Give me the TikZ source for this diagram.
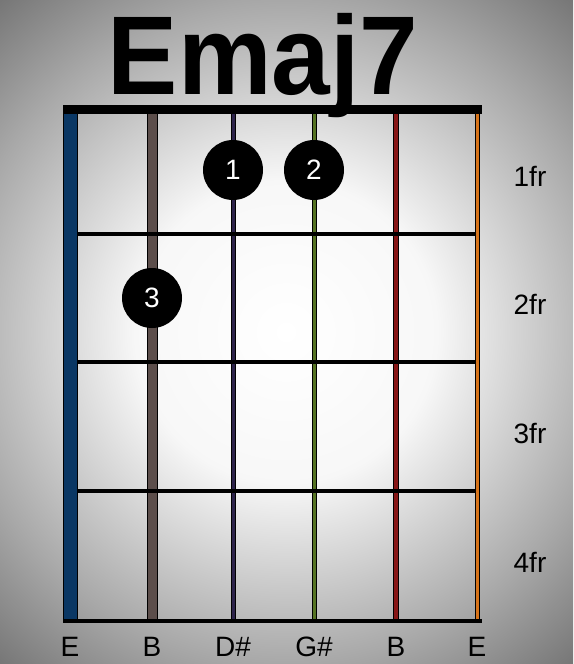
\documentclass[tikz,border=0pt]{standalone}
\usepackage{fontspec}
\setmainfont{Liberation Sans}
\pgfdeclareradialshading{bgshade}{\pgfpoint{0bp}{0bp}}{color(0bp)=(white); color(150bp)=(white!97!black); color(260bp)=(black!22); color(330bp)=(black!34); color(445bp)=(black!55)}
\definecolor{sE}{RGB}{10,55,100}
\definecolor{sB}{RGB}{92,78,75}
\definecolor{sD}{RGB}{45,35,75}
\definecolor{sG}{RGB}{85,115,35}
\definecolor{sBh}{RGB}{135,22,22}
\definecolor{sEh}{RGB}{215,115,25}
\tikzset{
  lbl/.style={font=\fontsize{28}{28}\selectfont, text=black, inner sep=0pt, anchor=base},
  finger/.style={circle, fill=black, minimum size=60pt, inner sep=0pt, text=white, font=\fontsize{28}{28}\selectfont},
  fretline/.style={line width=4pt, black},
  bar/.style={line width=1pt, draw=black},
}
\begin{document}
\begin{tikzpicture}[x=1pt,y=-1pt]
\useasboundingbox (0,0) rectangle (573,664);
\coordinate (bgc) at (286,332);
\begin{scope}
\clip (0,0) rectangle (573,664);
\node[inner sep=0pt, outer sep=0pt] (bg) at (bgc) {\pgfuseshading{bgshade}};
\end{scope}
% title
\node[anchor=base, inner sep=0pt, font=\fontsize{112}{112}\selectfont\bfseries] (title) at (263,94) {\scalebox{0.94}[1]{Emaj7}};
% strings (filled bars with outline)
\filldraw[bar, fill=sE] (63,113) rectangle (77,619);
\filldraw[bar, fill=sB] (147,113) rectangle (157,619);
\filldraw[bar, fill=sD] (231.5,113) rectangle (235,619);
\filldraw[bar, fill=sG] (312.5,113) rectangle (316,619);
\filldraw[bar, fill=sBh] (393.5,113) rectangle (398,619);
\filldraw[bar, fill=sEh] (475,113) rectangle (479,619);
% nut and bottom
\fill[black] (63,105) rectangle (482,114);
\fill[black] (63,619) rectangle (482,623);
% frets
\draw[fretline] (77,234) -- (475,234);
\draw[fretline] (77,362) -- (475,362);
\draw[fretline] (77,491) -- (475,491);
% fingers
\node[finger] (f1) at (233,170) {1};
\node[finger] (f2) at (314,170) {2};
\node[finger] (f3) at (152,298) {3};
% fret labels
\node[lbl] (fr1) at (530,186) {1fr};
\node[lbl] (fr2) at (530,314) {2fr};
\node[lbl] (fr3) at (530,443) {3fr};
\node[lbl] (fr4) at (530,572) {4fr};
% string names
\node[lbl] (n1) at (70,656) {E};
\node[lbl] (n2) at (152,656) {B};
\node[lbl] (n3) at (233,656) {D\#};
\node[lbl] (n4) at (314,656) {G\#};
\node[lbl] (n5) at (396,656) {B};
\node[lbl] (n6) at (477,656) {E};
\end{tikzpicture}
\end{document}
